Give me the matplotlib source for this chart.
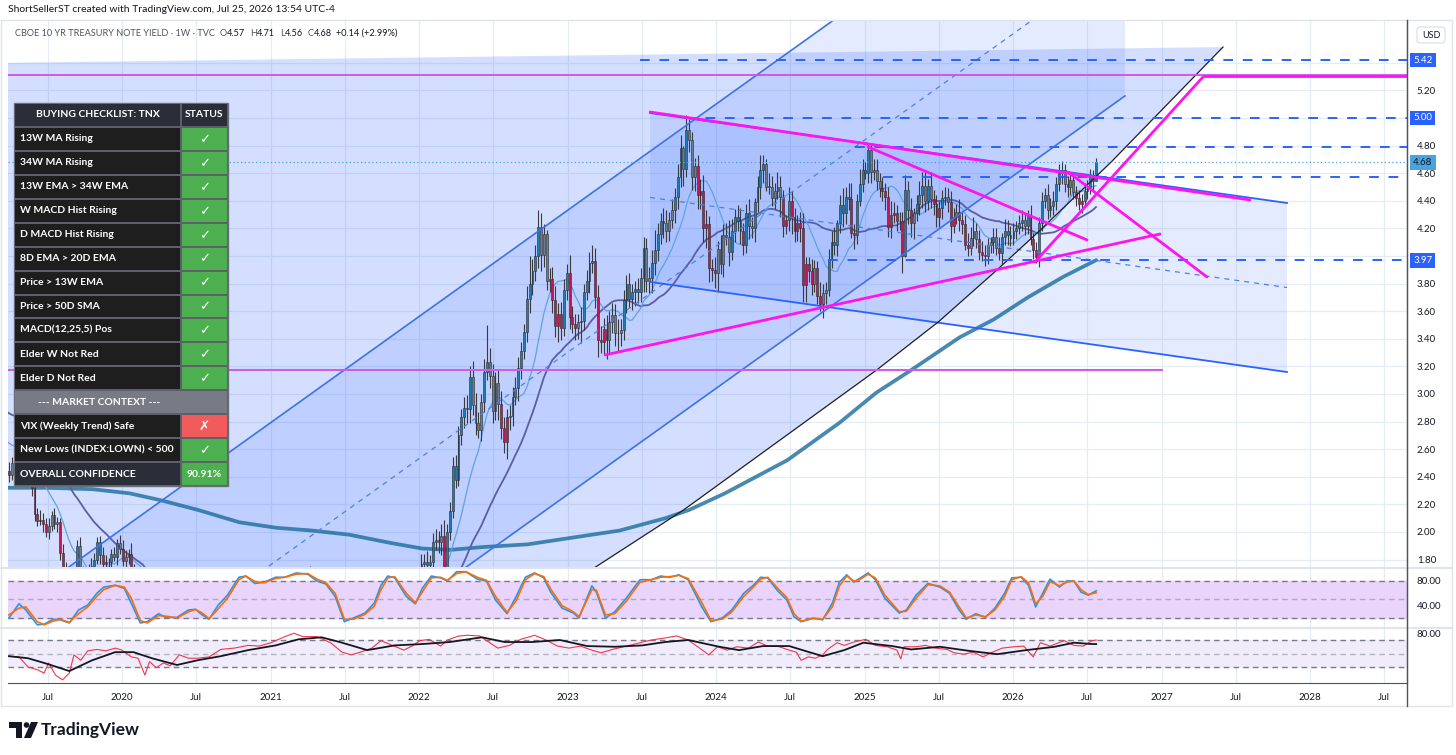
import numpy as np
import pandas as pd
import matplotlib
matplotlib.use("Agg")
import matplotlib.pyplot as plt
from matplotlib.patches import Rectangle, Polygon, Circle, FancyBboxPatch

plt.rcParams['font.family'] = ['Lato', 'DejaVu Sans']

# ---------------- weekly candles, TVC:TNX (Fri closes, 2018-07-06 .. 2026-07-24) ----------------
c2018 = [2.83, 2.83, 2.89, 2.96, 2.95, 2.87, 2.86, 2.82, 2.86, 2.94, 2.99, 3.07, 3.06,
         3.23, 3.16, 3.19, 3.08, 3.21, 3.19, 3.06, 3.04, 2.99, 2.85, 2.89, 2.79, 2.73]
c2019 = [2.67, 2.70, 2.78, 2.76, 2.69, 2.63, 2.66, 2.65, 2.76, 2.63, 2.59, 2.44, 2.41,
         2.50, 2.56, 2.56, 2.50, 2.53, 2.47, 2.39, 2.32, 2.13, 2.08, 2.09, 2.06, 2.00,
         2.04, 2.12, 2.06, 2.07, 1.85, 1.74, 1.55, 1.52, 1.50, 1.56, 1.90, 1.72, 1.69,
         1.53, 1.73, 1.75, 1.80, 1.93, 1.83, 1.77, 1.78, 1.78, 1.84, 1.82, 1.92, 1.88]
c2020 = [1.79, 1.82, 1.84, 1.68, 1.51, 1.58, 1.59, 1.47, 1.13, 0.76, 0.96, 0.94, 0.68,
         0.60, 0.74, 0.65, 0.60, 0.63, 0.69, 0.64, 0.66, 0.65, 0.90, 0.71, 0.69, 0.64,
         0.68, 0.65, 0.62, 0.59, 0.53, 0.57, 0.71, 0.65, 0.72, 0.72, 0.67, 0.69, 0.66,
         0.70, 0.78, 0.74, 0.84, 0.87, 0.82, 0.90, 0.83, 0.84, 0.97, 0.90, 0.95, 0.94]
c2021 = [0.92, 1.12, 1.10, 1.09, 1.07, 1.17, 1.20, 1.34, 1.41, 1.57, 1.63, 1.73, 1.67,
         1.72, 1.67, 1.58, 1.56, 1.63, 1.58, 1.63, 1.63, 1.58, 1.56, 1.45, 1.45, 1.52,
         1.44, 1.36, 1.30, 1.28, 1.24, 1.30, 1.28, 1.26, 1.31, 1.33, 1.34, 1.37, 1.46,
         1.47, 1.61, 1.57, 1.65, 1.56, 1.45, 1.58, 1.55, 1.48, 1.35, 1.48, 1.41, 1.49, 1.51]
c2022 = [1.77, 1.78, 1.76, 1.78, 1.93, 1.94, 1.93, 1.97, 1.74, 2.00, 2.15, 2.48, 2.38,
         2.70, 2.83, 2.90, 2.89, 3.12, 2.92, 2.79, 2.74, 2.94, 3.16, 3.23, 3.13, 2.88,
         3.08, 2.93, 2.75, 2.65, 2.83, 2.84, 2.98, 3.04, 3.19, 3.31, 3.45, 3.69, 3.80,
         3.89, 4.00, 4.21, 4.01, 4.16, 3.82, 3.83, 3.68, 3.49, 3.58, 3.48, 3.75, 3.88]
c2023 = [3.56, 3.51, 3.48, 3.52, 3.53, 3.74, 3.82, 3.95, 3.96, 3.70, 3.39, 3.38, 3.47,
         3.39, 3.52, 3.57, 3.44, 3.44, 3.46, 3.68, 3.80, 3.69, 3.74, 3.76, 3.74, 3.84,
         4.06, 3.82, 3.84, 3.95, 4.04, 4.16, 4.25, 4.24, 4.18, 4.26, 4.33, 4.43, 4.57,
         4.78, 4.63, 4.91, 4.84, 4.57, 4.65, 4.44, 4.47, 4.20, 4.23, 3.91, 3.90, 3.88]
c2024 = [4.05, 3.94, 4.15, 4.14, 4.03, 4.18, 4.28, 4.25, 4.18, 4.08, 4.31, 4.22, 4.20,
         4.39, 4.50, 4.62, 4.67, 4.50, 4.50, 4.42, 4.47, 4.50, 4.43, 4.22, 4.26, 4.40,
         4.28, 4.18, 4.24, 4.20, 3.79, 3.94, 3.89, 3.80, 3.91, 3.71, 3.65, 3.73, 3.75,
         3.98, 4.10, 4.08, 4.24, 4.37, 4.31, 4.43, 4.41, 4.17, 4.15, 4.40, 4.52, 4.62]
c2025 = [4.60, 4.77, 4.61, 4.62, 4.54, 4.49, 4.47, 4.43, 4.21, 4.30, 4.31, 4.25, 4.25,
         4.00, 4.48, 4.33, 4.24, 4.31, 4.38, 4.44, 4.51, 4.40, 4.51, 4.41, 4.38, 4.28,
         4.35, 4.42, 4.43, 4.39, 4.22, 4.28, 4.32, 4.26, 4.23, 4.08, 4.06, 4.13, 4.18,
         4.12, 4.03, 4.01, 4.00, 4.08, 4.10, 4.14, 4.06, 4.02, 4.14, 4.18, 4.15, 4.13]
c2026 = [4.18, 4.20, 4.24, 4.26, 4.22, 4.29, 4.12, 4.04, 3.99, 4.24, 4.40, 4.44, 4.33,
         4.36, 4.40, 4.52, 4.60, 4.62, 4.52, 4.50, 4.55, 4.46, 4.42, 4.38, 4.40, 4.47,
         4.50, 4.57, 4.54, 4.68]

# wick extents beyond the body, in hundredths
up2018 = [4, 3, 5, 4, 3, 6, 4, 3, 5, 4, 3, 5, 6, 4, 7, 5, 6, 4, 5, 3, 6, 5, 4, 7, 5, 6]
dn2018 = [3, 5, 4, 3, 6, 4, 5, 4, 3, 5, 4, 6, 3, 5, 4, 6, 5, 4, 3, 6, 5, 4, 7, 5, 4, 6]
up2019 = [5, 4, 6, 3, 4, 5, 3, 4, 6, 3, 5, 4, 7, 4, 3, 5, 6, 3, 4, 5, 3, 6, 4, 7, 5, 4,
          6, 3, 5, 4, 3, 6, 4, 8, 5, 9, 4, 6, 3, 5, 4, 6, 5, 3, 4, 6, 5, 3, 4, 5, 3, 6]
dn2019 = [4, 6, 3, 5, 4, 3, 5, 4, 3, 6, 4, 8, 5, 3, 4, 6, 3, 5, 4, 3, 6, 5, 4, 3, 6, 4,
          5, 3, 4, 6, 5, 8, 4, 7, 6, 3, 5, 4, 6, 9, 3, 4, 5, 3, 6, 4, 3, 5, 4, 3, 6, 4]
up2020 = [6, 5, 4, 8, 9, 7, 5, 6, 10, 15, 12, 10, 8, 6, 7, 5, 4, 6, 5, 4, 5, 6, 9, 5, 4, 5,
          4, 5, 4, 3, 4, 5, 6, 5, 4, 5, 4, 3, 4, 5, 6, 5, 6, 7, 8, 6, 5, 4, 6, 5, 4, 5]
dn2020 = [4, 6, 5, 9, 10, 6, 7, 8, 14, 20, 18, 12, 10, 8, 6, 5, 6, 4, 5, 5, 4, 5, 7, 6, 4, 5,
          4, 5, 3, 4, 3, 4, 5, 4, 5, 4, 3, 4, 5, 4, 5, 6, 5, 6, 7, 5, 6, 5, 4, 6, 5, 4]
up2021 = [5, 6, 4, 5, 6, 5, 6, 7, 8, 6, 0, 0, 1, 0, 3, 5, 4, 5, 6, 4, 5, 4, 6, 5, 4, 5, 6,
          4, 5, 4, 5, 4, 5, 4, 5, 6, 7, 6, 8, 7, 6, 5, 6, 7, 8, 6, 5, 6, 7, 5, 6, 5, 4]
dn2021 = [6, 5, 4, 6, 5, 4, 5, 6, 7, 5, 6, 8, 7, 6, 5, 6, 7, 5, 6, 5, 6, 8, 5, 6, 5, 6, 7,
          5, 6, 5, 4, 5, 6, 5, 4, 5, 6, 5, 7, 6, 5, 8, 6, 9, 7, 6, 5, 8, 6, 5, 7, 6, 5]
up2022 = [7, 6, 8, 5, 6, 8, 7, 9, 12, 6, 7, 6, 8, 7, 6, 8, 9, 8, 12, 9, 8, 6, 9, 27, 10, 9,
          8, 10, 9, 8, 6, 8, 7, 8, 8, 7, 6, 9, 20, 9, 8, 12, 10, 7, 3, 8, 9, 10, 8, 9, 8, 6]
dn2022 = [6, 5, 7, 6, 5, 6, 8, 10, 10, 8, 6, 5, 6, 5, 7, 8, 10, 10, 7, 9, 6, 8, 7, 6, 9, 9,
          7, 12, 8, 8, 12, 9, 7, 6, 9, 8, 6, 7, 10, 8, 7, 9, 12, 9, 7, 8, 9, 8, 11, 9, 6, 7]
up2023 = [13, 8, 7, 6, 10, 6, 8, 8, 12, 10, 9, 10, 8, 10, 8, 9, 8, 10, 8, 7, 6, 8, 6, 6, 8,
          7, 8, 7, 8, 9, 15, 8, 6, 10, 9, 6, 8, 6, 10, 10, 2, 11, 8, 6, 6, 8, 9, 12, 10, 6, 7, 9]
dn2023 = [9, 7, 9, 8, 15, 7, 6, 9, 7, 8, 12, 8, 9, 14, 10, 8, 9, 13, 9, 7, 9, 7, 8, 10, 8,
          7, 10, 8, 9, 11, 9, 8, 7, 11, 8, 7, 6, 9, 9, 7, 12, 6, 9, 9, 10, 10, 10, 10, 14, 10, 8, 11]
up2024 = [6, 10, 8, 9, 12, 9, 6, 9, 10, 6, 7, 10, 6, 3, 8, 11, 6, 3, 10, 8, 6, 11, 8, 5, 4,
          10, 7, 7, 6, 8, 11, 5, 5, 9, 6, 5, 10, 7, 6, 7, 8, 11, 2, 7, 12, 7, 10, 12, 6, 5, 11, 8]
dn2024 = [14, 7, 9, 6, 10, 6, 8, 7, 9, 7, 6, 10, 7, 10, 7, 9, 9, 3, 5, 6, 8, 6, 15, 8, 6,
          8, 12, 8, 7, 10, 12, 12, 8, 8, 6, 6, 5, 10, 8, 4, 7, 7, 8, 7, 10, 8, 8, 4, 10, 6, 4, 6]
up2025 = [6, 4, 5, 8, 8, 6, 8, 6, 7, 10, 8, 6, 7, 7, 11, 6, 9, 4, 6, 10, 10, 10, 5, 10, 7,
          6, 5, 6, 7, 6, 8, 7, 6, 9, 6, 7, 9, 8, 10, 6, 7, 8, 7, 5, 4, 6, 6, 8, 3, 9, 8, 7]
dn2025 = [4, 7, 8, 6, 6, 6, 7, 10, 7, 8, 6, 7, 6, 12, 1, 10, 10, 12, 6, 8, 9, 8, 7, 6, 8,
          7, 7, 8, 5, 7, 12, 5, 5, 8, 7, 4, 6, 5, 6, 6, 6, 5, 7, 6, 6, 8, 5, 5, 8, 6, 7, 6]
up2026 = [6, 5, 6, 7, 5, 4, 8, 5, 6, 4, 6, 5, 8, 6, 7, 5, 7, 7, 5, 6, 5, 6, 5, 6, 5, 6,
          5, 6, 5, 3]
dn2026 = [5, 6, 4, 6, 7, 6, 4, 6, 4, 7, 6, 5, 6, 5, 6, 7, 5, 8, 6, 7, 6, 5, 6, 5, 7, 4,
          6, 5, 6, 0]

# 200-week average (decimal year, yield)
ma200_t = [2019.23, 2019.49, 2019.80, 2020.05, 2020.26, 2020.51, 2020.79, 2021.04, 2021.28,
           2021.53, 2021.81, 2022.02, 2022.21, 2022.42, 2022.73, 2023.04, 2023.35, 2023.66,
           2023.82, 2024.06, 2024.48, 2024.83, 2025.08, 2025.31, 2025.64, 2025.87, 2026.10,
           2026.34, 2026.56]
ma200_v = [2.32, 2.32, 2.31, 2.28, 2.23, 2.16, 2.07, 2.03, 2.01, 1.98, 1.92, 1.88, 1.87,
           1.89, 1.91, 1.96, 2.01, 2.10, 2.16, 2.28, 2.52, 2.79, 3.01, 3.17, 3.41, 3.54,
           3.70, 3.85, 3.97]

# Stoch RSI %K / %D
stk_t = [2019.238, 2019.306, 2019.352, 2019.429, 2019.475, 2019.537, 2019.583, 2019.645,
         2019.707, 2019.769, 2019.830, 2019.877, 2019.954, 2020.015, 2020.062, 2020.123,
         2020.170, 2020.247, 2020.293, 2020.370, 2020.448, 2020.494, 2020.540, 2020.586,
         2020.648, 2020.710, 2020.787, 2020.833, 2020.895, 2020.957, 2021.034, 2021.096,
         2021.173, 2021.250, 2021.312, 2021.373, 2021.435, 2021.497, 2021.559, 2021.636,
         2021.698, 2021.744, 2021.790, 2021.836, 2021.914, 2021.975, 2022.022, 2022.083,
         2022.145, 2022.191, 2022.253, 2022.315, 2022.392, 2022.454, 2022.515, 2022.593,
         2022.654, 2022.716, 2022.778, 2022.840, 2022.886, 2022.963, 2023.040, 2023.077,
         2023.164, 2023.194, 2023.256, 2023.318, 2023.395, 2023.488, 2023.565, 2023.627,
         2023.688, 2023.750, 2023.812, 2023.904, 2023.966, 2024.042, 2024.106, 2024.187,
         2024.251, 2024.300, 2024.348, 2024.412, 2024.477, 2024.525, 2024.573, 2024.654,
         2024.718, 2024.783, 2024.831, 2024.880, 2024.928, 2024.960, 2025.024, 2025.073,
         2025.137, 2025.234, 2025.282, 2025.347, 2025.427, 2025.508, 2025.572, 2025.637,
         2025.685, 2025.749, 2025.814, 2025.878, 2025.943, 2025.991, 2026.055, 2026.104,
         2026.152, 2026.200, 2026.249, 2026.313, 2026.361, 2026.410, 2026.458, 2026.506,
         2026.560]
stk_k = [20, 43, 33, 9, 10, 18, 17, 12, 33, 41, 60, 70, 73, 68, 44, 12, 14, 27, 21, 21,
         33, 34, 25, 18, 41, 57, 86, 88, 76, 78, 86, 86, 93, 91, 80, 75, 55, 14, 20, 28,
         44, 73, 88, 85, 55, 43, 68, 88, 85, 80, 95, 95, 83, 80, 49, 27, 55, 86, 93, 85,
         62, 36, 28, 20, 72, 62, 20, 30, 52, 82, 82, 88, 86, 90, 82, 38, 14, 20, 33, 60,
         73, 86, 85, 65, 49, 22, 14, 20, 17, 44, 78, 90, 78, 83, 93, 82, 52, 28, 33, 57,
         76, 70, 60, 33, 18, 27, 21, 36, 60, 85, 86, 73, 38, 60, 83, 70, 80, 80, 62, 57, 64]
stk_d = [25, 36, 38, 14, 9, 15, 18, 13, 27, 38, 55, 66, 73, 70, 52, 16, 12, 24, 23, 20,
         30, 34, 28, 19, 35, 52, 82, 88, 79, 77, 84, 86, 91, 92, 83, 77, 60, 18, 18, 26,
         39, 66, 85, 87, 60, 45, 62, 85, 86, 81, 92, 95, 86, 81, 55, 29, 48, 82, 92, 87,
         67, 40, 30, 22, 66, 65, 25, 27, 47, 78, 82, 86, 87, 89, 84, 45, 16, 18, 30, 55,
         70, 83, 86, 69, 53, 27, 15, 19, 18, 38, 72, 88, 80, 81, 91, 85, 57, 30, 31, 52,
         74, 72, 62, 38, 20, 25, 22, 33, 55, 82, 87, 77, 43, 55, 79, 72, 78, 80, 66, 58, 61]

# RSI (red) and its average (black)
rsi_t = [2019.238, 2019.306, 2019.367, 2019.429, 2019.475, 2019.506, 2019.552, 2019.599,
         2019.645, 2019.676, 2019.722, 2019.769, 2019.830, 2019.892, 2019.954, 2020.000,
         2020.062, 2020.108, 2020.154, 2020.185, 2020.231, 2020.278, 2020.324, 2020.386,
         2020.448, 2020.509, 2020.586, 2020.664, 2020.756, 2020.849, 2020.926, 2021.003,
         2021.096, 2021.157, 2021.219, 2021.312, 2021.404, 2021.481, 2021.543, 2021.605,
         2021.682, 2021.744, 2021.821, 2021.898, 2021.960, 2022.006, 2022.068, 2022.145,
         2022.191, 2022.269, 2022.330, 2022.407, 2022.469, 2022.531, 2022.608, 2022.685,
         2022.778, 2022.855, 2022.932, 2023.009, 2023.086, 2023.164, 2023.225, 2023.302,
         2023.395, 2023.488, 2023.565, 2023.657, 2023.735, 2023.812, 2023.889, 2023.951,
         2024.010, 2024.074, 2024.139, 2024.219, 2024.284, 2024.348, 2024.412, 2024.493,
         2024.541, 2024.573, 2024.622, 2024.670, 2024.718, 2024.751, 2024.815, 2024.863,
         2024.928, 2025.008, 2025.073, 2025.153, 2025.218, 2025.244, 2025.266, 2025.347,
         2025.411, 2025.476, 2025.556, 2025.604, 2025.669, 2025.733, 2025.798, 2025.862,
         2025.927, 2026.007, 2026.072, 2026.136, 2026.184, 2026.249, 2026.345, 2026.410,
         2026.474, 2026.532, 2026.560]
rsi_v = [46, 45, 30, 26, 21, 36, 18, 11, 21, 48, 40, 54, 56, 54, 58, 55, 45, 43, 18, 38,
         29, 36, 32, 48, 43, 43, 45, 56, 58, 62, 61, 66, 75, 80, 75, 75, 66, 52, 48, 52,
         58, 69, 62, 55, 62, 69, 71, 61, 70, 76, 77, 76, 67, 58, 62, 71, 77, 70, 61, 58,
         61, 55, 51, 56, 61, 66, 70, 73, 76, 70, 58, 48, 60, 55, 60, 58, 67, 61, 61, 55,
         52, 40, 45, 43, 48, 56, 66, 62, 67, 71, 62, 60, 55, 42, 60, 60, 62, 58, 56, 51,
         49, 52, 45, 52, 58, 60, 61, 45, 66, 61, 69, 62, 61, 69, 70]
rsima_t = [2019.238, 2019.367, 2019.491, 2019.645, 2019.799, 2019.954, 2020.077, 2020.201,
           2020.370, 2020.509, 2020.664, 2020.849, 2021.034, 2021.188, 2021.343, 2021.466,
           2021.651, 2021.836, 2022.022, 2022.207, 2022.423, 2022.577, 2022.762, 2022.948,
           2023.133, 2023.318, 2023.503, 2023.657, 2023.812, 2024.022, 2024.155, 2024.316,
           2024.493, 2024.718, 2024.863, 2024.992, 2025.186, 2025.314, 2025.508, 2025.701,
           2025.894, 2026.088, 2026.281, 2026.410, 2026.532, 2026.560]
rsima_v = [46, 43, 35, 24, 40, 52, 52, 43, 33, 40, 46, 55, 62, 71, 74, 67, 55, 62, 64, 67,
           74, 67, 67, 70, 61, 60, 62, 67, 70, 60, 55, 61, 61, 46, 55, 66, 61, 56, 60, 54,
           49, 55, 60, 66, 64, 64]

# chart drawings: (decimal year, yield) anchors
chanA_upper = [(2019.40, 1.56), (2026.754, 7.22)]
chanA_lower = [(2019.40, -0.50), (2026.754, 5.16)]
chanB_upper = [(2023.556, 5.036), (2027.845, 4.384)]
chanB_lower = [(2023.556, 3.812), (2027.845, 3.159)]
zone_top = [(2019.0, 5.396), (2027.414, 5.514)]
curve = [(2023.0, 1.61), (2023.189, 1.746), (2023.781, 2.159), (2025.082, 3.174),
         (2025.499, 3.524), (2025.892, 3.899), (2026.172, 4.176), (2026.660, 4.68),
         (2027.414, 5.514)]
pink_lines = [[(2023.556, 5.043), (2027.596, 4.406)],
              [(2023.253, 3.283), (2026.990, 4.159)],
              [(2025.024, 4.790), (2026.498, 4.116)],
              [(2026.148, 3.957), (2027.279, 5.297)],
              [(2026.370, 4.609), (2027.306, 3.848)]]
pink_level = (2027.279, 5.305)
violet_full = 5.312
violet_part = (3.174, 2027.01)
levels = [(5.42, 2023.488), (5.00, 2023.798), (4.79, 2024.936), (4.57, 2025.125), (3.97, 2024.757)]
badges = [(5.42, '#2962ff', 'white'), (5.00, '#2962ff', 'white'),
          (4.68, '#4aa3df', '#131722'), (3.97, '#2962ff', 'white')]
last_price = 4.68
price_ticks = [1.8, 2.0, 2.2, 2.4, 2.6, 2.8, 3.0, 3.2, 3.4, 3.6, 3.8, 4.2, 4.4, 4.6, 4.8, 5.2]

checklist = ["13W MA Rising", "34W MA Rising", "13W EMA > 34W EMA", "W MACD Hist Rising",
             "D MACD Hist Rising", "8D EMA > 20D EMA", "Price > 13W EMA", "Price > 50D SMA",
             "MACD(12,25,5) Pos", "Elder W Not Red", "Elder D Not Red"]
context = [("VIX (Weekly Trend) Safe", False), ("New Lows (INDEX:LOWN) < 500", True)]
confidence = "90.91%"

# ---------------- build series ----------------
close = np.array(c2018 + c2019 + c2020 + c2021 + c2022 + c2023 + c2024 + c2025 + c2026)
wup = np.array(up2018 + up2019 + up2020 + up2021 + up2022 + up2023 + up2024 + up2025 + up2026) / 100
wdn = np.array(dn2018 + dn2019 + dn2020 + dn2021 + dn2022 + dn2023 + dn2024 + dn2025 + dn2026) / 100
weeks = pd.date_range(end="2026-07-24", periods=len(close), freq="W-FRI")
t = np.asarray(weeks.year + (weeks.dayofyear - 1) / 365.25, dtype=float)
opn = np.r_[close[0], close[:-1]]
top = np.maximum(opn, close)
bot = np.minimum(opn, close)
high = top + wup[:len(close)]
low = bot - wdn[:len(close)]

s = pd.Series(close)
sma13 = s.rolling(13).mean()
sma34 = s.rolling(34).mean()
ema13 = s.ewm(span=13, adjust=False).mean()
macd = s.ewm(span=12, adjust=False).mean() - s.ewm(span=26, adjust=False).mean()
hist = macd - macd.ewm(span=9, adjust=False).mean()
bull = (ema13.diff() > 0) & (hist.diff() > 0)
bear = (ema13.diff() < 0) & (hist.diff() < 0)
ccol = np.where(bull, '#1f7db5', np.where(bear, '#c8154f', '#6d7d8b'))

# ---------------- figure ----------------
W, H = 1456, 755
fig = plt.figure(figsize=(W / 100, H / 100), dpi=100)
fig.patch.set_facecolor('white')


def fx(px):
    return px / W


def fy(py):
    return 1 - py / H


L, R = 8, 1407
ax = fig.add_axes([fx(L), fy(567), fx(R) - fx(L), fy(20) - fy(567)])
p1 = fig.add_axes([fx(L), fy(627), fx(R) - fx(L), fy(569) - fy(627)], sharex=ax)
p2 = fig.add_axes([fx(L), fy(683), fx(R) - fx(L), fy(629) - fy(683)], sharex=ax)

x0, x1 = 2019.232, 2028.653
ax.set_xlim(x0, x1)
ax.set_ylim(1.746, 5.71)
p1.set_ylim(5.4, 99.4)
p2.set_ylim(6.3, 86.3)

xt = [2019.5]
xl = ['Jul']
for yr in range(2020, 2029):
    xt += [yr, yr + 0.5]
    xl += [str(yr), 'Jul']

gridc = '#e6ecf3'
for a in (ax, p1, p2):
    a.set_facecolor('white')
    for sp in ('top', 'left', 'bottom'):
        a.spines[sp].set_visible(False)
    a.spines['right'].set_color('#50535e')
    a.yaxis.tick_right()
    a.tick_params(axis='y', length=0, pad=7, labelsize=7, labelcolor='#131722')
    a.tick_params(axis='x', length=0)
    for xv in xt:
        a.axvline(xv, color=gridc, lw=0.9, zorder=0)
ax.set_xticks(xt)
ax.set_xticklabels(xl)
plt.setp(ax.get_xticklabels(), visible=False)
plt.setp(p1.get_xticklabels(), visible=False)
p2.tick_params(axis='x', labelsize=7, labelcolor='#131722', pad=7)
p2.spines['bottom'].set_visible(True)
p2.spines['bottom'].set_color('#50535e')

ax.set_yticks(price_ticks)
ax.set_yticklabels(['%.2f' % v for v in price_ticks])
for v in np.arange(1.8, 5.5, 0.2):
    ax.axhline(v, color=gridc, lw=0.9, zorder=0)
p1.set_yticks([80, 40])
p1.set_yticklabels(['80.00', '40.00'])
p1.axhline(40, color=gridc, lw=0.9, zorder=0)
p2.set_yticks([80])
p2.set_yticklabels(['80.00'])

# ---- drawings: filled zones ----
blue = '#2962ff'
zone = list(zone_top) + curve[::-1] + [(2019.0, curve[0][1])]
ax.add_patch(Polygon(zone, closed=True, fc=blue, alpha=0.2, ec='none', zorder=1))
chA = [chanA_upper[0], chanA_upper[1], chanA_lower[1], chanA_lower[0]]
ax.add_patch(Polygon(chA, closed=True, fc=blue, alpha=0.12, ec='none', zorder=1.1))
chB = [chanB_upper[0], chanB_upper[1], chanB_lower[1], chanB_lower[0]]
ax.add_patch(Polygon(chB, closed=True, fc=blue, alpha=0.12, ec='none', zorder=1.2))

# moving averages
ax.plot(ma200_t, ma200_v, color='#1a6c9c', lw=2.7, alpha=0.8, zorder=2, solid_capstyle='round')
ax.plot(t, sma34, color='#5a5ea6', lw=1.3, zorder=2.2)
ax.plot(t, sma13, color='#5fa2e6', lw=0.9, zorder=2.3)

# candles
ax.vlines(t, low, high, color='#3a3a3a', lw=0.8, zorder=3)
ax.bar(t, np.maximum(top - bot, 0.005), bottom=bot, width=0.0125, color=ccol,
       edgecolor='#2b2b2b', linewidth=0.4, zorder=4)

# channel lines
for ln in (chanA_upper, chanA_lower):
    ax.plot([p[0] for p in ln], [p[1] for p in ln], color='#3d72e8', lw=1.2, zorder=5)
ax.plot([chanA_upper[0][0], chanA_upper[1][0]],
        [(chanA_upper[0][1] + chanA_lower[0][1]) / 2, (chanA_upper[1][1] + chanA_lower[1][1]) / 2],
        color='#4d7fe8', lw=0.9, ls=(0, (4, 4)), zorder=5)
for ln in (chanB_upper, chanB_lower):
    ax.plot([p[0] for p in ln], [p[1] for p in ln], color=blue, lw=1.3, zorder=5)
ax.plot([chanB_upper[0][0], chanB_upper[1][0]],
        [(chanB_upper[0][1] + chanB_lower[0][1]) / 2, (chanB_upper[1][1] + chanB_lower[1][1]) / 2],
        color='#4d7fe8', lw=0.9, ls=(0, (4, 4)), zorder=5)
ax.plot([p[0] for p in curve], [p[1] for p in curve], color='#1e1e1e', lw=0.9, zorder=5)

# horizontal levels
ax.axhline(violet_full, color='#d24cf0', lw=1.3, zorder=5)
ax.hlines(violet_part[0], x0, violet_part[1], color='#cc5de8', lw=1.5, zorder=5)
for lv, start in levels:
    ax.hlines(lv, start, x1, colors=blue, linestyles=(0, (5, 5)), lw=1.4, zorder=5)
ax.axhline(last_price, color='#4aa3df', lw=0.9, ls=(0, (1, 2)), zorder=5)

# pink trend lines
for ln in pink_lines:
    ax.plot([p[0] for p in ln], [p[1] for p in ln], color='#ff14f0', lw=2, zorder=6,
            solid_capstyle='round')
ax.hlines(pink_level[1], pink_level[0], x1, colors='#ff14f0', lw=2, zorder=6)

# price badges
for v, bg, fgc in badges:
    ax.text(1.0045, v, '%.2f' % v, transform=ax.get_yaxis_transform(), ha='left', va='center',
            fontsize=7, color=fgc, zorder=10, clip_on=False,
            bbox=dict(boxstyle='square,pad=0.3', fc=bg, ec='none'))

# ---- Stoch RSI pane ----
p1.axhspan(20, 80, color='#e9d5fb', zorder=0.5)
for lv, al in ((80, 1), (50, 0.5), (20, 1)):
    p1.axhline(lv, color='#787b86', lw=1, ls=(0, (4, 3)), alpha=al, zorder=1)
p1.plot(stk_t, stk_k, color='#2196f3', lw=1.2, zorder=3)
p1.plot(stk_t, stk_d, color='#ff6d00', lw=1.2, zorder=4)

# ---- RSI pane ----
p2.axhspan(30, 70, color='#f1ecfb', zorder=0.5)
for lv, al in ((70, 1), (50, 0.5), (30, 1)):
    p2.axhline(lv, color='#787b86', lw=1, ls=(0, (4, 3)), alpha=al, zorder=1)
p2.plot(rsi_t, rsi_v, color='#f23645', lw=0.8, zorder=3)
p2.plot(rsima_t, rsima_v, color='#131722', lw=1.3, zorder=4)

# ---------------- overlay in pixel space: frame, table, texts ----------------
ov = fig.add_axes([0, 0, 1, 1], zorder=20)
ov.set_xlim(0, W)
ov.set_ylim(H, 0)
ov.axis('off')
ov.patch.set_visible(False)

ov.add_patch(Rectangle((1, 20), 1451, 686, fc='none', ec='#e0e3eb', lw=1))
for yy in (568, 628):
    ov.plot([1, 1452], [yy, yy], color='#e0e3eb', lw=1.5)
ov.plot([R, R], [20, 706], color='#50535e', lw=1)

ov.text(8, 10, "ShortSellerST created with TradingView.com, Jul 25, 2026 13:54 UTC-4",
        fontsize=7.5, color='#131722', va='center', ha='left')

# symbol legend, laid out piece by piece
renderer = fig.canvas.get_renderer()
legend = [("CBOE 10 YR TREASURY NOTE YIELD · 1W · TVC", '#50535e', 5),
          ("O", '#50535e', 0), ("4.57", '#131722', 5),
          ("H", '#50535e', 0), ("4.71", '#131722', 5),
          ("L", '#50535e', 0), ("4.56", '#131722', 5),
          ("C", '#50535e', 0), ("4.68", '#131722', 4),
          ("+0.14 (+2.99%)", '#131722', 0)]
xx = 15
for tx, cc, gap in legend:
    tt = ov.text(xx, 33, tx, fontsize=6.6, color=cc, va='center', ha='left')
    xx += tt.get_window_extent(renderer).width + gap

ov.add_patch(FancyBboxPatch((1417, 27), 28, 16, boxstyle='round,pad=0,rounding_size=3',
                            fc='white', ec='#e0e3eb', lw=1))
ov.text(1431, 35, "USD", fontsize=6.5, color='#131722', ha='center', va='center')

# checklist table
tx0, tx1, tsplit, ty0 = 14, 228, 181, 103
rh = (486 - ty0) / 16
ov.add_patch(Rectangle((tx0, ty0), tx1 - tx0, 16 * rh, fc='#5d606b', ec='#6b6f7a', lw=1))
rows = [("BUYING CHECKLIST: TNX", "STATUS", 'head', True)]
rows += [(name, "✓", 'item', True) for name in checklist]
rows += [("--- MARKET CONTEXT ---", "", 'ctx', True)]
rows += [(name, "✓" if ok else "✗", 'item', ok) for name, ok in context]
rows += [("OVERALL CONFIDENCE", confidence, 'total', True)]
for i, (lab, stat, kind, ok) in enumerate(rows):
    yy = ty0 + i * rh
    if kind == 'ctx':
        ov.add_patch(Rectangle((tx0 + 1, yy + 1), tx1 - tx0 - 2, rh - 2, fc='#787b86', ec='none'))
        ov.text((tx0 + tsplit) / 2 + 2, yy + rh / 2, lab, fontsize=7.5, color='white',
                fontweight='bold', ha='center', va='center')
        continue
    lbg = {'head': '#2a2e39', 'item': '#1e1e1e', 'total': '#2a2e39'}[kind]
    rbg = '#2a2e39' if kind == 'head' else ('#4caf50' if ok else '#f25b5b')
    ov.add_patch(Rectangle((tx0 + 1, yy + 1), tsplit - tx0 - 2, rh - 2, fc=lbg, ec='none'))
    ov.add_patch(Rectangle((tsplit + 1, yy + 1), tx1 - tsplit - 2, rh - 2, fc=rbg, ec='none'))
    if kind == 'head':
        ov.text((tx0 + tsplit) / 2, yy + rh / 2, lab, fontsize=7.5, color='white',
                fontweight='bold', ha='center', va='center')
    else:
        ov.text(tx0 + 6, yy + rh / 2, lab, fontsize=7.5, color='white', fontweight='bold',
                ha='left', va='center')
    big = stat in ("✓", "✗")
    ov.text((tsplit + tx1) / 2, yy + rh / 2, stat, fontsize=9.5 if big else 7.5, color='white',
            fontweight='bold', ha='center', va='center')

# TradingView logo
ov.add_patch(Polygon([(9, 722), (22, 722), (22, 738), (16, 738), (16, 727.5), (9, 727.5)],
                     closed=True, fc='#131722', ec='none'))
ov.add_patch(Circle((26.5, 725), 2.8, fc='#131722', ec='none'))
ov.add_patch(Polygon([(31, 722), (38, 722), (31, 738), (24, 738)], closed=True, fc='#131722',
                     ec='none'))
ov.text(41, 730.5, "TradingView", fontsize=12.5, fontweight='bold', color='#131722',
        ha='left', va='center')

fig.savefig("out.png", dpi=100, facecolor='white')
